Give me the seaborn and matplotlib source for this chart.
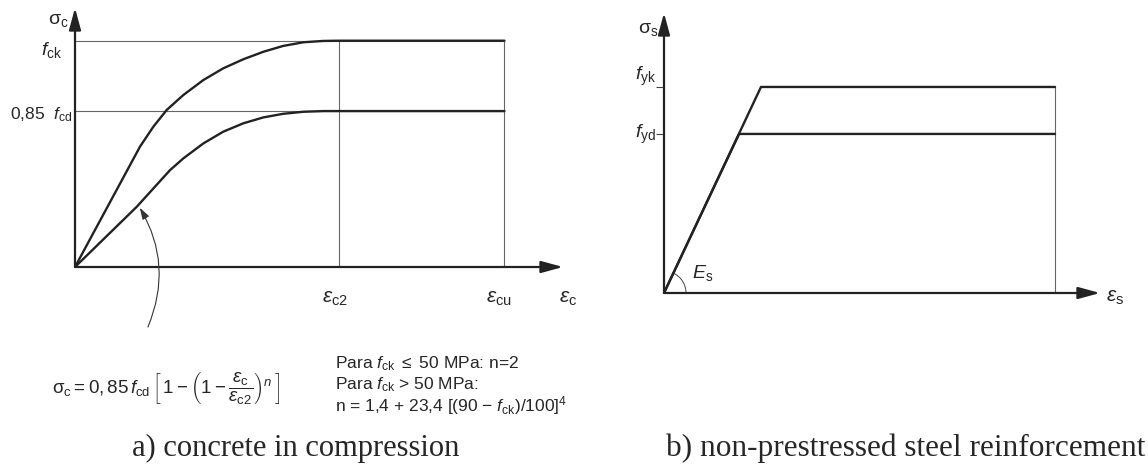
import numpy as np
import matplotlib
matplotlib.use("Agg")
import matplotlib.pyplot as plt
import seaborn as sns
from matplotlib.patches import Arc
from matplotlib.transforms import ScaledTranslation

# --- DATA ---
# a) concrete: strain in units where eps_c2 = 2.0, stress in units of f_ck
eps_c2 = 2.0
eps_cu = 3.25
f_ck = 1.0
f_cd085 = 0.689
conc_upper_eps = [0, 0.492, 0.593, 0.694, 0.820, 0.971, 1.122, 1.274, 1.425, 1.576, 1.728, 1.879, 2.0, 3.25]
conc_upper_sig = [0, 0.532, 0.620, 0.694, 0.760, 0.826, 0.878, 0.918, 0.951, 0.977, 0.993, 0.999, 1.0, 1.0]
conc_lower_eps = [0, 0.467, 0.719, 0.820, 0.971, 1.122, 1.274, 1.425, 1.576, 1.728, 1.879, 2.0, 3.25]
conc_lower_sig = [0, 0.266, 0.428, 0.480, 0.546, 0.598, 0.635, 0.661, 0.677, 0.686, 0.689, 0.689, 0.689]

# b) steel: strain in units of eps_uk, stress in units of f_yk
eps_uk = 1.0
f_yk = 1.0
f_yd = 0.772
steel_k_eps = [0, 0.248, 1.0]
steel_k_sig = [0, 1.0, 1.0]
steel_d_eps = [0, 0.192, 1.0]
steel_d_sig = [0, 0.772, 0.772]

# labels
conc_ylabels = [r'$f_{\mathrm{ck}}$', r'0,85  $f_{\mathrm{cd}}$']
conc_xlabels = [r'$\varepsilon_{\mathrm{c2}}$', r'$\varepsilon_{\mathrm{cu}}$']
steel_ylabels = [r'$f_{\mathrm{yk}}$', r'$f_{\mathrm{yd}}$']
formula = (r'$\mathrm{\sigma}_{\mathrm{c}} = 0,85\,f_{\mathrm{cd}}\,\left[\,1-\left(1-'
           r'\dfrac{\varepsilon_{\mathrm{c}}}{\varepsilon_{\mathrm{c2}}}\right)^{n}\,\right]$')
para_lines = [r'Para $f_{\mathrm{ck}}$ $\leq$ 50 MPa: n=2',
              r'Para $f_{\mathrm{ck}}$ > 50 MPa:',
              r'n = 1,4 + 23,4 [(90 $-$ $f_{\mathrm{ck}}$)/100]$^{4}$']
captions = ['a) concrete in compression', 'b) non-prestressed steel reinforcement']

# --- STYLE ---
sns.set_theme(style='white')
plt.rcParams['font.family'] = ['Liberation Sans', 'DejaVu Sans']
plt.rcParams['mathtext.fontset'] = 'custom'
plt.rcParams['mathtext.rm'] = 'Liberation Sans'
plt.rcParams['mathtext.it'] = 'Liberation Sans:italic'
plt.rcParams['mathtext.bf'] = 'Liberation Sans:bold'
plt.rcParams['mathtext.sf'] = 'Liberation Sans'

DARK = '#222222'
THIN = '#666666'
W, H = 1148, 465

fig = plt.figure(figsize=(11.48, 4.65), dpi=100)
fig.patch.set_facecolor('white')

ax1 = fig.add_axes([75 / W, (H - 267) / H, (563 - 75) / W, (267 - 8) / H])
ax2 = fig.add_axes([664 / W, (H - 293) / H, (1100 - 664) / W, (293 - 13) / H])
ax1.set_xlim(0, 3.693)
ax1.set_ylim(0, 1.1445)
ax2.set_xlim(0, 1.115)
ax2.set_ylim(0, 1.359)

arrow_kw = dict(arrowstyle='-|>,head_length=1.1,head_width=0.3', lw=1.6, color=DARK,
                mutation_scale=12, shrinkA=0, shrinkB=0)
for ax in (ax1, ax2):
    for s in ax.spines.values():
        s.set_visible(False)
    ax.set_facecolor('none')
    ax.annotate('', xy=(1, 0), xytext=(0, 0), xycoords='axes fraction', arrowprops=arrow_kw)
    ax.annotate('', xy=(0, 1), xytext=(0, 0), xycoords='axes fraction', arrowprops=arrow_kw)
    ax.set_xticks([])

LBL = 14

# --- a) concrete ---
ax1.set_yticks([])
ax1.hlines([f_ck, f_cd085], 0, eps_cu, color=THIN, lw=0.8)
ax1.vlines([eps_c2, eps_cu], 0, f_ck, color=THIN, lw=0.8)
sns.lineplot(x=conc_upper_eps, y=conc_upper_sig, ax=ax1, color=DARK, lw=1.7, sort=False, estimator=None)
sns.lineplot(x=conc_lower_eps, y=conc_lower_sig, ax=ax1, color=DARK, lw=1.7, sort=False, estimator=None)

ax1.text(-0.05, 1.091, r'$\mathrm{\sigma}_{\mathrm{c}}$', ha='right', va='center', fontsize=LBL, clip_on=False)
ax1.text(-0.098, f_ck - 0.04, conc_ylabels[0], ha='right', va='center', fontsize=LBL, clip_on=False)
ax1.text(-0.023, f_cd085 - 0.017, conc_ylabels[1], ha='right', va='center', fontsize=12.5, clip_on=False)
ax1.text(eps_c2 - 0.03, -0.137, conc_xlabels[0], ha='center', va='center', fontsize=15, clip_on=False)
ax1.text(eps_cu - 0.04, -0.137, conc_xlabels[1], ha='center', va='center', fontsize=15, clip_on=False)
ax1.text(3.73, -0.137, r'$\varepsilon_{\mathrm{c}}$', ha='center', va='center', fontsize=15, clip_on=False)

ax1.annotate('', xy=(0.49, 0.262), xytext=(0.552, -0.265), annotation_clip=False,
             arrowprops=dict(arrowstyle='-|>,head_length=0.7,head_width=0.22', lw=0.8, color='#333333',
                             connectionstyle='arc3,rad=0.25', mutation_scale=10, shrinkA=0, shrinkB=0))

# --- b) steel ---
ax2.set_yticks([f_yd, f_yk])
ax2.tick_params(axis='y', left=True, length=6, width=0.8, color='#444444', direction='out', labelleft=False)
ax2.vlines([eps_uk], 0, f_yk, color=THIN, lw=0.8)
sns.lineplot(x=steel_k_eps, y=steel_k_sig, ax=ax2, color=DARK, lw=1.7, sort=False, estimator=None)
sns.lineplot(x=steel_d_eps, y=steel_d_sig, ax=ax2, color=DARK, lw=1.7, sort=False, estimator=None)

ax2.text(-0.015, 1.277, r'$\mathrm{\sigma}_{\mathrm{s}}$', ha='right', va='center', fontsize=LBL, clip_on=False)
ax2.text(-0.02, f_yk + 0.053, steel_ylabels[0], ha='right', va='center', fontsize=LBL, clip_on=False)
ax2.text(-0.02, f_yd, steel_ylabels[1], ha='right', va='center', fontsize=LBL, clip_on=False)
ax2.text(0.0997, 0.097, r'$E_{\mathrm{s}}$', ha='center', va='center', fontsize=LBL)
ax2.text(1.153, -0.02, r'$\varepsilon_{\mathrm{s}}$', ha='center', va='center', fontsize=15, clip_on=False)

# angle arc at the origin for E_s
p0 = ax2.transData.transform((0, 0))
p1 = ax2.transData.transform((steel_k_eps[1], steel_k_sig[1]))
ang = np.degrees(np.arctan2(p1[1] - p0[1], p1[0] - p0[0]))
arc = Arc((0, 0), 0.44, 0.44, theta1=0, theta2=ang, color='#444444', lw=0.7,
          transform=fig.dpi_scale_trans + ScaledTranslation(0, 0, ax2.transData))
ax2.add_patch(arc)

# --- formula & notes ---
fig.text(52 / W, (H - 388) / H, formula, ha='left', va='center', fontsize=13.5)
for i, line in enumerate(para_lines):
    fig.text(335 / W, (H - (364 + 21 * i)) / H, line, ha='left', va='center', fontsize=12.5)

fig.text(296 / W, (H - 456) / H, captions[0], ha='center', va='baseline', fontsize=22,
         family='Liberation Serif')
fig.text(1145 / W, (H - 456) / H, captions[1], ha='right', va='baseline', fontsize=22.5,
         family='Liberation Serif')

plt.savefig('out.png', dpi=100, facecolor='white')
